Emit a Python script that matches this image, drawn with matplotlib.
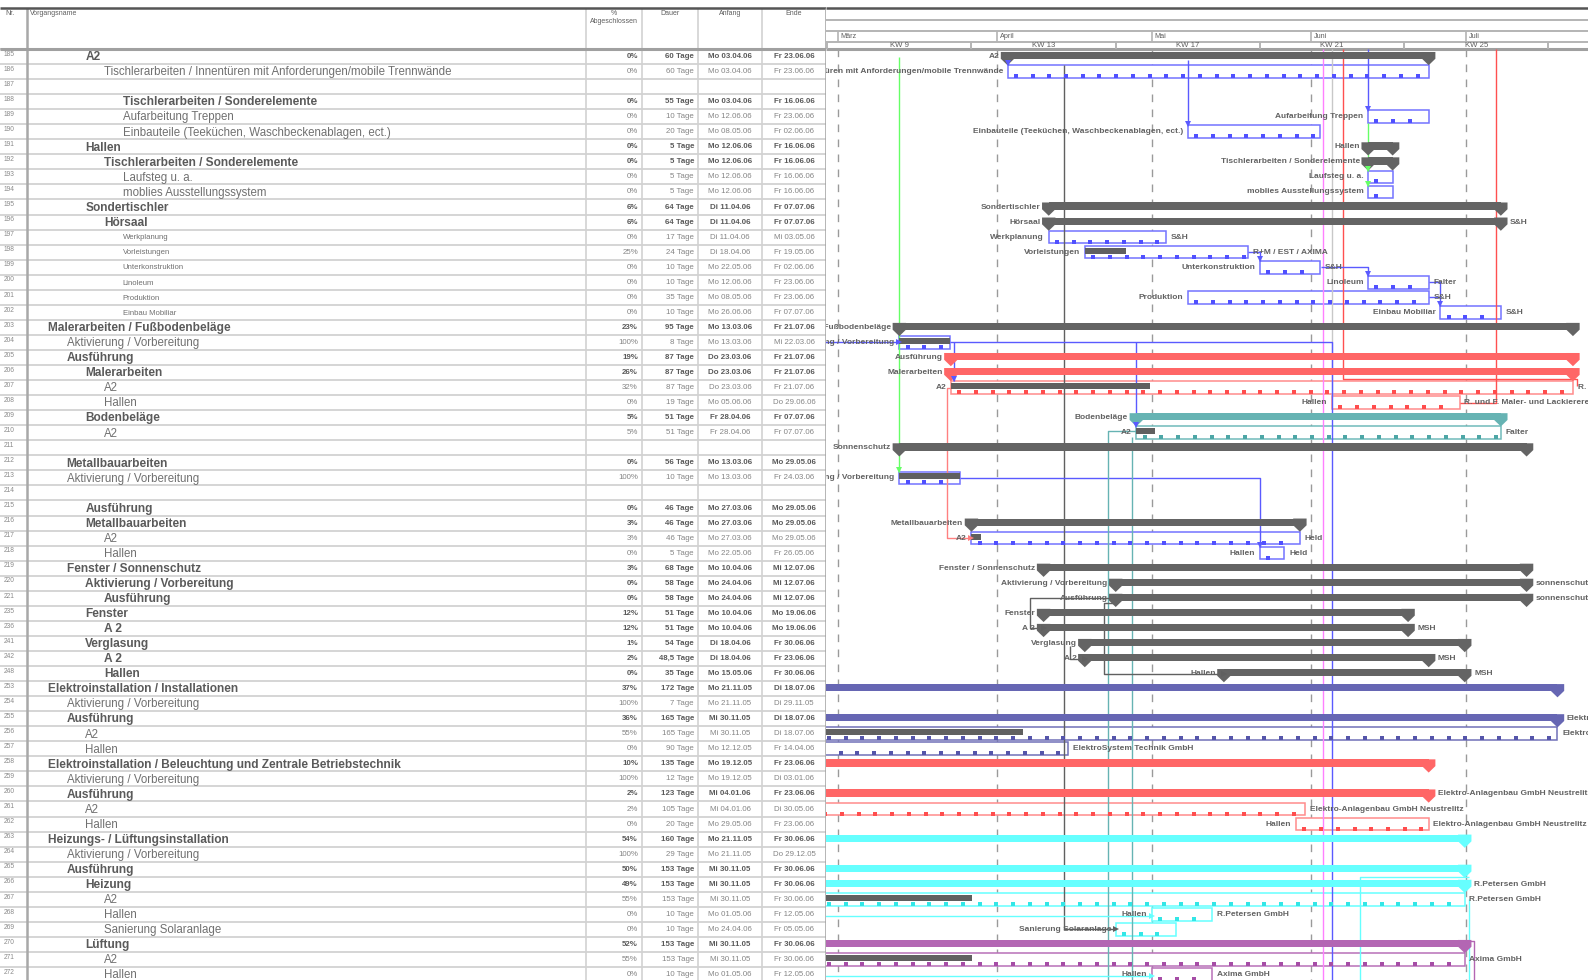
import datetime as dt
import numpy as np
import matplotlib
matplotlib.use('Agg')
import matplotlib.pyplot as plt
import matplotlib.dates as mdates
from matplotlib.patches import Rectangle, Polygon

plt.rcParams['font.family'] = ['Liberation Sans', 'DejaVu Sans']

# ---------------- table data ----------------
row_nr = [185, 186, 187, 188, 189, 190, 191, 192, 193, 194, 195, 196, 197, 198, 199, 200, 201, 202,
          203, 204, 205, 206, 207, 208, 209, 210, 211, 212, 213, 214, 215, 216, 217, 218, 219, 220, 221,
          235, 236, 241, 242, 248, 253, 254, 255, 256, 257, 258, 259, 260, 261, 262,
          263, 264, 265, 266, 267, 268, 269, 270, 271, 272]
row_name = ['A2', 'Tischlerarbeiten / Innentüren mit Anforderungen/mobile Trennwände', '',
            'Tischlerarbeiten / Sonderelemente', 'Aufarbeitung Treppen',
            'Einbauteile (Teeküchen, Waschbeckenablagen, ect.)', 'Hallen',
            'Tischlerarbeiten / Sonderelemente', 'Laufsteg u. a.', 'moblies Ausstellungssystem',
            'Sondertischler', 'Hörsaal', 'Werkplanung', 'Vorleistungen', 'Unterkonstruktion',
            'Linoleum', 'Produktion', 'Einbau Mobiliar',
            'Malerarbeiten / Fußbodenbeläge', 'Aktivierung / Vorbereitung', 'Ausführung',
            'Malerarbeiten', 'A2', 'Hallen', 'Bodenbeläge', 'A2', '',
            'Metallbauarbeiten', 'Aktivierung / Vorbereitung', '', 'Ausführung', 'Metallbauarbeiten',
            'A2', 'Hallen', 'Fenster / Sonnenschutz', 'Aktivierung / Vorbereitung', 'Ausführung',
            'Fenster', 'A 2', 'Verglasung', 'A 2', 'Hallen',
            'Elektroinstallation / Installationen', 'Aktivierung / Vorbereitung', 'Ausführung', 'A2', 'Hallen',
            'Elektroinstallation / Beleuchtung und Zentrale Betriebstechnik',
            'Aktivierung / Vorbereitung', 'Ausführung', 'A2', 'Hallen',
            'Heizungs- / Lüftungsinstallation', 'Aktivierung / Vorbereitung', 'Ausführung', 'Heizung',
            'A2', 'Hallen', 'Sanierung Solaranlage', 'Lüftung', 'A2', 'Hallen']
row_level = [2, 3, 0, 4, 4, 4, 2, 3, 4, 4, 2, 3, 4, 4, 4, 4, 4, 4,
             0, 1, 1, 2, 3, 3, 2, 3, 0, 1, 1, 0, 2, 2, 3, 3, 1, 2, 3,
             2, 3, 2, 3, 3, 0, 1, 1, 2, 2, 0, 1, 1, 2, 2,
             0, 1, 1, 2, 3, 3, 3, 2, 3, 3]
bold_nr = [185, 188, 191, 192, 195, 196, 203, 205, 206, 209, 212, 215, 216, 219, 220, 221,
           235, 236, 241, 242, 248, 253, 255, 258, 260, 263, 265, 266, 270]
small_nr = [197, 198, 199, 200, 201, 202]

row_pct = ['0%', '0%', '', '0%', '0%', '0%', '0%', '0%', '0%', '0%', '6%', '6%', '0%', '25%', '0%', '0%', '0%', '0%',
           '23%', '100%', '19%', '26%', '32%', '0%', '5%', '5%', '', '0%', '100%', '', '0%', '3%', '3%', '0%',
           '3%', '0%', '0%', '12%', '12%', '1%', '2%', '0%', '37%', '100%', '36%', '55%', '0%',
           '10%', '100%', '2%', '2%', '0%', '54%', '100%', '50%', '49%', '55%', '0%', '0%', '52%', '55%', '0%']
row_dur = ['60 Tage', '60 Tage', '', '55 Tage', '10 Tage', '20 Tage', '5 Tage', '5 Tage', '5 Tage', '5 Tage',
           '64 Tage', '64 Tage', '17 Tage', '24 Tage', '10 Tage', '10 Tage', '35 Tage', '10 Tage',
           '95 Tage', '8 Tage', '87 Tage', '87 Tage', '87 Tage', '19 Tage', '51 Tage', '51 Tage', '',
           '56 Tage', '10 Tage', '', '46 Tage', '46 Tage', '46 Tage', '5 Tage', '68 Tage', '58 Tage', '58 Tage',
           '51 Tage', '51 Tage', '54 Tage', '48,5 Tage', '35 Tage', '172 Tage', '7 Tage', '165 Tage',
           '165 Tage', '90 Tage', '135 Tage', '12 Tage', '123 Tage', '105 Tage', '20 Tage', '160 Tage',
           '29 Tage', '153 Tage', '153 Tage', '153 Tage', '10 Tage', '10 Tage', '153 Tage', '153 Tage', '10 Tage']
row_start = ['Mo 03.04.06', 'Mo 03.04.06', '', 'Mo 03.04.06', 'Mo 12.06.06', 'Mo 08.05.06', 'Mo 12.06.06',
             'Mo 12.06.06', 'Mo 12.06.06', 'Mo 12.06.06', 'Di 11.04.06', 'Di 11.04.06', 'Di 11.04.06',
             'Di 18.04.06', 'Mo 22.05.06', 'Mo 12.06.06', 'Mo 08.05.06', 'Mo 26.06.06', 'Mo 13.03.06',
             'Mo 13.03.06', 'Do 23.03.06', 'Do 23.03.06', 'Do 23.03.06', 'Mo 05.06.06', 'Fr 28.04.06',
             'Fr 28.04.06', '', 'Mo 13.03.06', 'Mo 13.03.06', '', 'Mo 27.03.06', 'Mo 27.03.06', 'Mo 27.03.06',
             'Mo 22.05.06', 'Mo 10.04.06', 'Mo 24.04.06', 'Mo 24.04.06', 'Mo 10.04.06', 'Mo 10.04.06',
             'Di 18.04.06', 'Di 18.04.06', 'Mo 15.05.06', 'Mo 21.11.05', 'Mo 21.11.05', 'Mi 30.11.05',
             'Mi 30.11.05', 'Mo 12.12.05', 'Mo 19.12.05', 'Mo 19.12.05', 'Mi 04.01.06', 'Mi 04.01.06',
             'Mo 29.05.06', 'Mo 21.11.05', 'Mo 21.11.05', 'Mi 30.11.05', 'Mi 30.11.05', 'Mi 30.11.05',
             'Mo 01.05.06', 'Mo 24.04.06', 'Mi 30.11.05', 'Mi 30.11.05', 'Mo 01.05.06']
row_end = ['Fr 23.06.06', 'Fr 23.06.06', '', 'Fr 16.06.06', 'Fr 23.06.06', 'Fr 02.06.06', 'Fr 16.06.06',
           'Fr 16.06.06', 'Fr 16.06.06', 'Fr 16.06.06', 'Fr 07.07.06', 'Fr 07.07.06', 'Mi 03.05.06',
           'Fr 19.05.06', 'Fr 02.06.06', 'Fr 23.06.06', 'Fr 23.06.06', 'Fr 07.07.06', 'Fr 21.07.06',
           'Mi 22.03.06', 'Fr 21.07.06', 'Fr 21.07.06', 'Fr 21.07.06', 'Do 29.06.06', 'Fr 07.07.06',
           'Fr 07.07.06', '', 'Mo 29.05.06', 'Fr 24.03.06', '', 'Mo 29.05.06', 'Mo 29.05.06', 'Mo 29.05.06',
           'Fr 26.05.06', 'Mi 12.07.06', 'Mi 12.07.06', 'Mi 12.07.06', 'Mo 19.06.06', 'Mo 19.06.06',
           'Fr 30.06.06', 'Fr 23.06.06', 'Fr 30.06.06', 'Di 18.07.06', 'Di 29.11.05', 'Di 18.07.06',
           'Di 18.07.06', 'Fr 14.04.06', 'Fr 23.06.06', 'Di 03.01.06', 'Fr 23.06.06', 'Di 30.05.06',
           'Fr 23.06.06', 'Fr 30.06.06', 'Do 29.12.05', 'Fr 30.06.06', 'Fr 30.06.06', 'Fr 30.06.06',
           'Fr 12.05.06', 'Fr 05.05.06', 'Fr 30.06.06', 'Fr 30.06.06', 'Fr 12.05.06']

# ---------------- gantt data ----------------
g_nr = [185, 186, 189, 190, 191, 192, 193, 194, 195, 196, 197, 198, 199, 200, 201, 202,
        203, 204, 205, 206, 207, 208, 209, 210, 211, 213, 216, 217, 218, 219, 220, 221,
        235, 236, 241, 242, 248, 253, 255, 256, 257, 258, 260, 261, 262,
        263, 265, 266, 267, 268, 269, 270, 271, 272]
g_kind = ['S', 'T', 'T', 'T', 'S', 'S', 'T', 'T', 'S', 'S', 'T', 'T', 'T', 'T', 'T', 'T',
          'S', 'T', 'S', 'S', 'T', 'T', 'S', 'T', 'S', 'T', 'S', 'T', 'T', 'S', 'S', 'S',
          'S', 'S', 'S', 'S', 'S', 'S', 'S', 'T', 'T', 'S', 'S', 'T', 'T',
          'S', 'S', 'S', 'T', 'T', 'T', 'S', 'T', 'T']
g_col = ['gray', 'blue', 'blue', 'blue', 'gray', 'gray', 'blue', 'blue', 'gray', 'gray', 'blue', 'blue',
         'blue', 'blue', 'blue', 'blue',
         'gray', 'blue', 'red', 'red', 'red', 'red', 'teal', 'teal', 'gray', 'blue', 'gray', 'blue', 'blue',
         'gray', 'gray', 'gray',
         'gray', 'gray', 'gray', 'gray', 'gray', 'elek', 'elek', 'elek', 'elek', 'red', 'red', 'red', 'red',
         'cyan', 'cyan', 'cyan', 'cyan', 'cyan', 'cyan', 'purple', 'purple', 'purple']
g_start = ['03.04.06', '03.04.06', '12.06.06', '08.05.06', '12.06.06', '12.06.06', '12.06.06', '12.06.06',
           '11.04.06', '11.04.06', '11.04.06', '18.04.06', '22.05.06', '12.06.06', '08.05.06', '26.06.06',
           '13.03.06', '13.03.06', '23.03.06', '23.03.06', '23.03.06', '05.06.06', '28.04.06', '28.04.06',
           '13.03.06', '13.03.06', '27.03.06', '27.03.06', '22.05.06', '10.04.06', '24.04.06', '24.04.06',
           '10.04.06', '10.04.06', '18.04.06', '18.04.06', '15.05.06', '21.11.05', '30.11.05', '30.11.05',
           '12.12.05', '19.12.05', '04.01.06', '04.01.06', '29.05.06',
           '21.11.05', '30.11.05', '30.11.05', '30.11.05', '01.05.06', '24.04.06', '30.11.05', '30.11.05',
           '01.05.06']
g_end = ['23.06.06', '23.06.06', '23.06.06', '02.06.06', '16.06.06', '16.06.06', '16.06.06', '16.06.06',
         '07.07.06', '07.07.06', '03.05.06', '19.05.06', '02.06.06', '23.06.06', '23.06.06', '07.07.06',
         '21.07.06', '22.03.06', '21.07.06', '21.07.06', '21.07.06', '29.06.06', '07.07.06', '07.07.06',
         '12.07.06', '24.03.06', '29.05.06', '29.05.06', '26.05.06', '12.07.06', '12.07.06', '12.07.06',
         '19.06.06', '19.06.06', '30.06.06', '23.06.06', '30.06.06', '18.07.06', '18.07.06', '18.07.06',
         '14.04.06', '23.06.06', '23.06.06', '30.05.06', '23.06.06',
         '30.06.06', '30.06.06', '30.06.06', '30.06.06', '12.05.06', '05.05.06', '30.06.06', '30.06.06',
         '12.05.06']
g_prog = [0, 0, 0, 0, 0, 0, 0, 0, 0, 0, 0, 25, 0, 0, 0, 0,
          0, 100, 0, 0, 32, 0, 0, 5, 0, 100, 0, 3, 0, 0, 0, 0,
          0, 0, 0, 0, 0, 0, 0, 55, 0, 0, 0, 2, 0,
          0, 0, 0, 55, 0, 0, 0, 55, 0]
g_left = ['A2', 'Tischlerarbeiten / Innentüren mit Anforderungen/mobile Trennwände', 'Aufarbeitung Treppen',
          'Einbauteile (Teeküchen, Waschbeckenablagen, ect.)', 'Hallen', 'Tischlerarbeiten / Sonderelemente',
          'Laufsteg u. a.', 'moblies Ausstellungssystem', 'Sondertischler', 'Hörsaal', 'Werkplanung',
          'Vorleistungen', 'Unterkonstruktion', 'Linoleum', 'Produktion', 'Einbau Mobiliar',
          'Malerarbeiten / Fußbodenbeläge', 'Aktivierung / Vorbereitung', 'Ausführung', 'Malerarbeiten',
          'A2', 'Hallen', 'Bodenbeläge', 'A2', 'Sonnenschutz', 'Aktivierung / Vorbereitung',
          'Metallbauarbeiten', 'A2', 'Hallen', 'Fenster / Sonnenschutz', 'Aktivierung / Vorbereitung',
          'Ausführung', 'Fenster', 'A 2', 'Verglasung', 'A 2', 'Hallen', '', '', '', '', '', '', '', 'Hallen',
          '', '', '', '', 'Hallen', 'Sanierung Solaranlage', '', '', 'Hallen']
g_right = ['', '', '', '', '', '', '', '', '', 'S&H', 'S&H', 'R+M / EST / AXIMA', 'S&H', 'Falter', 'S&H', 'S&H',
           '', '', '', '', 'R. und F. Maler- und Lackiererei', 'R. und F. Maler- und Lackiererei', '', 'Falter',
           '', '', '', 'Held', 'Held', '', 'sonnenschutz', 'sonnenschutz', '', 'MSH', '', 'MSH', 'MSH',
           '', 'Elektroinstallation', 'Elektro', 'ElektroSystem Technik GmbH', '',
           'Elektro-Anlagenbau GmbH Neustrelitz', 'Elektro-Anlagenbau GmbH Neustrelitz',
           'Elektro-Anlagenbau GmbH Neustrelitz',
           '', '', 'R.Petersen GmbH', 'R.Petersen GmbH', 'R.Petersen GmbH', '', '', 'Axima GmbH', 'Axima GmbH']

pal = {'gray': '#646464', 'blue': '#6b6bff', 'red': '#ff6666', 'teal': '#66b3b3',
       'elek': '#6666b3', 'cyan': '#66ffff', 'purple': '#b366b3'}
box_edge = {'blue': '#7373ff', 'red': '#ff8c8c', 'teal': '#70baba', 'elek': '#7070b8',
            'cyan': '#66ffff', 'purple': '#b870b8', 'gray': '#646464'}
dot_col = {'blue': '#5050ff', 'red': '#ff4d4d', 'teal': '#4da6a6', 'elek': '#5555aa',
           'cyan': '#33e6e6', 'purple': '#a64da6', 'gray': '#646464'}


def d(s, off=0.0):
    dd, mm, yy = s.split('.')
    return mdates.date2num(dt.datetime(2000 + int(yy), int(mm), int(dd))) + off


# dependency links: colour, points (date, Nr, dy), arrow marker at the end
links = [
    ('#5a5aff', [(d('03.04.06'), 185, 0.2), (d('03.04.06'), 186, -0.42)], 'v'),
    ('#66ff66', [(d('13.03.06'), 185, 0.0), (d('13.03.06'), 213, -0.42)], 'v'),
    ('#606060', [(d('14.04.06'), 186, -0.42), (d('14.04.06'), 269, 0.0), (d('24.04.06'), 269, 0.0)], '>'),
    ('#5a5aff', [(d('08.05.06'), 185, 0.2), (d('08.05.06'), 190, -0.42)], 'v'),
    ('#ff80ff', [(d('03.06.06', 0.3), 185, -0.5), (d('03.06.06', 0.3), 272, 0.6)], ''),
    ('#c8c8c8', [(d('04.06.06', 0.9), 185, -0.5), (d('04.06.06', 0.9), 208, -0.4)], ''),
    ('#ff5050', [(d('07.06.06', 0.2), 185, -0.5), (d('07.06.06', 0.2), 207, -0.55),
                 (d('22.07.06', 0.6), 207, -0.55), (d('22.07.06', 0.6), 207, -0.1)], ''),
    ('#5a5aff', [(d('12.06.06'), 185, -0.5), (d('12.06.06'), 189, -0.42)], 'v'),
    ('#66ff66', [(d('12.06.06'), 189, 0.42), (d('12.06.06'), 193, -0.42)], 'v'),
    ('#66ff66', [(d('12.06.06'), 193, 0.42), (d('12.06.06'), 194, -0.42)], 'v'),
    ('#ff5050', [(d('06.07.06', 0.9), 185, -0.5), (d('06.07.06', 0.9), 208, 0.0),
                 (d('29.06.06', 0.75), 208, 0.0)], ''),
    ('#5a5aff', [(d('20.02.06'), 204, 0.0), (d('13.03.06'), 204, 0.0)], '>'),
    ('#5a5aff', [(d('22.03.06', 0.75), 204, -0.05), (d('04.06.06', 0.9), 204, -0.05),
                 (d('04.06.06', 0.9), 272, 0.6)], ''),
    ('#5a5aff', [(d('23.03.06', 0.6), 204, 0.0), (d('23.03.06', 0.6), 207, -0.42)], 'v'),
    ('#5a5aff', [(d('28.04.06'), 204, 0.0), (d('28.04.06'), 210, -0.42)], 'v'),
    ('#5a5aff', [(d('24.03.06', 0.75), 213, 0.0), (d('22.05.06'), 213, 0.0), (d('22.05.06'), 218, -0.42)], 'v'),
    ('#ff8080', [(d('23.03.06'), 207, 0.0), (d('22.03.06', 0.3), 207, 0.0), (d('22.03.06', 0.3), 217, 0.0),
                 (d('27.03.06'), 217, 0.0)], '>'),
    ('#66b3b3', [(d('22.04.06', 0.6), 272, 0.6), (d('22.04.06', 0.6), 210, -0.1), (d('28.04.06'), 210, -0.1)], ''),
    ('#66b3b3', [(d('27.04.06', 0.2), 210, 0.3), (d('27.04.06', 0.2), 272, 0.6)], ''),
    ('#606060', [(d('24.04.06'), 221, 0.0), (d('07.04.06', 0.3), 221, 0.0), (d('07.04.06', 0.3), 236, 0.0),
                 (d('10.04.06'), 236, 0.0)], '>'),
    ('#606060', [(d('15.04.06', 0.2), 241, 0.2), (d('15.04.06', 0.2), 242, 0.0), (d('18.04.06'), 242, 0.0)], '>'),
    ('#606060', [(d('24.04.06'), 221, 0.3), (d('21.04.06', 0.8), 221, 0.3), (d('21.04.06', 0.8), 248, 0.0),
                 (d('15.05.06'), 248, 0.0)], '>'),
    ('#66ffff', [(d('01.07.06', 0.5), 265, 0.5), (d('10.06.06', 0.5), 265, 0.5), (d('10.06.06', 0.5), 272, 0.6)], ''),
    ('#66ffff', [(d('01.07.06', 0.6), 267, 0.0), (d('01.07.06', 0.6), 272, 0.6)], ''),
    ('#66ffff', [(d('20.02.06'), 268, 0.1), (d('01.05.06'), 268, 0.1)], '>'),
    ('#66ffff', [(d('20.02.06'), 272, 0.1), (d('01.05.06'), 272, 0.1)], '>'),
    ('#b366b3', [(d('30.06.06', 0.75), 270, -0.2), (d('02.07.06', 0.6), 270, -0.2),
                 (d('02.07.06', 0.6), 272, 0.6)], ''),
    ('#5a5aff', [(d('19.05.06', 0.75), 198, 0.0), (d('22.05.06'), 198, 0.0), (d('22.05.06'), 199, -0.42)], 'v'),
    ('#5a5aff', [(d('02.06.06', 0.75), 199, 0.0), (d('12.06.06'), 199, 0.0), (d('12.06.06'), 200, -0.42)], 'v'),
    ('#5a5aff', [(d('23.06.06', 0.75), 200, 0.0), (d('26.06.06'), 200, 0.0), (d('26.06.06'), 202, -0.42)], 'v'),
    ('#5a5aff', [(d('23.06.06', 0.75), 201, 0.0), (d('26.06.06'), 201, 0.0)], ''),
]

month_starts = ['01.03.06', '01.04.06', '01.05.06', '01.06.06', '01.07.06']
month_names = ['März', 'April', 'Mai', 'Juni', 'Juli']
week_starts = ['27.02.06', '27.03.06', '24.04.06', '22.05.06', '19.06.06', '17.07.06']
week_names = ['KW 9', 'KW 13', 'KW 17', 'KW 21', 'KW 25', 'KW 29']

idx = {nr: i for i, nr in enumerate(row_nr)}
nrows = len(row_nr)

ROW0, ROWH = 56.5, 15.05


def yr(px):
    # pixel row from top -> row units
    return (px - ROW0) / ROWH


W, H = 1588, 980
SPLIT = 826
PXDAY = 5.152
fig = plt.figure(figsize=(W / 100, H / 100), dpi=100)
ax_t = fig.add_axes([0, 0, SPLIT / W, 1])
ax_g = fig.add_axes([SPLIT / W, 0, (W - SPLIT) / W, 1])
ylim = (yr(H), yr(0))
for ax in (ax_t, ax_g):
    ax.set_ylim(*ylim)
    ax.axis('off')
ax_t.set_xlim(0, SPLIT)
x_left = d('01.03.06', -11.5 / PXDAY)
ax_g.set_xlim(x_left, x_left + (W - SPLIT) / PXDAY)

txt = '#5e5e5e'
grid = '#d2d2d2'

# ---------------- table ----------------
bounds = [i + 0.5 for i in range(-1, nrows)]
ax_t.hlines(bounds, 0, SPLIT, color=grid, lw=1.3, zorder=1)
ax_t.vlines([586, 642, 698, 762], yr(8), yr(H), color=grid, lw=1.2, zorder=1)
ax_t.vlines([27], yr(8), yr(H), color='#a8a8a8', lw=1.8, zorder=1)
ax_t.hlines(yr(8), 0, SPLIT, color='#555555', lw=1.8)
ax_t.hlines(-0.5, 0, SPLIT, color='#a0a0a0', lw=2.2, zorder=2)
ax_t.vlines([SPLIT - 0.5], yr(8), yr(H), color='#a0a0a0', lw=1.8, zorder=3)

hs = 5.0
ax_t.text(5, yr(13.5), 'Nr.', fontsize=hs, color=txt, va='center')
ax_t.text(30, yr(13.5), 'Vorgangsname', fontsize=hs, color=txt, va='center')
ax_t.text(614, yr(13.5), '%', fontsize=hs, color=txt, va='center', ha='center')
ab = ax_t.text(614, yr(21.5), 'Abgeschlossen', fontsize=hs, color=txt, va='center', ha='center')
clip = Rectangle((587, yr(8)), 54, yr(48) - yr(8), transform=ax_t.transData)
ab.set_clip_path(clip)
ax_t.text(670, yr(13.5), 'Dauer', fontsize=hs, color=txt, va='center', ha='center')
ax_t.text(730, yr(13.5), 'Anfang', fontsize=hs, color=txt, va='center', ha='center')
ax_t.text(794, yr(13.5), 'Ende', fontsize=hs, color=txt, va='center', ha='center')

for i, nr in enumerate(row_nr):
    bold = nr in bold_nr
    fw = 'bold' if bold else 'normal'
    ax_t.text(4, i - 0.15, str(nr), fontsize=4.8, color='#8a8a8a', va='center')
    if nr in small_nr:
        size = 5.6
    else:
        size = 8.6 if bold else 8.3
    ax_t.text(48 + row_level[i] * 18.7, i + 0.05, row_name[i], fontsize=size, fontweight=fw,
              color='#5a5a5a' if bold else '#707070', va='center')
    nc = '#5a5a5a' if bold else '#858585'
    ax_t.text(638, i, row_pct[i], fontsize=5.7, fontweight=fw, color=nc, va='center', ha='right')
    ax_t.text(694, i, row_dur[i], fontsize=5.7, fontweight=fw, color=nc, va='center', ha='right')
    ax_t.text(730, i, row_start[i], fontsize=5.7, fontweight=fw, color=nc, va='center', ha='center')
    ax_t.text(794, i, row_end[i], fontsize=5.7, fontweight=fw, color=nc, va='center', ha='center')

# ---------------- gantt header ----------------
gx0, gx1 = ax_g.get_xlim()
ax_g.hlines(yr(8), gx0, gx1, color='#555555', lw=1.8)
ax_g.hlines([yr(20.3), yr(31.4), yr(41.5)], gx0, gx1, color='#b4b4b4', lw=1.4)
ax_g.hlines(-0.5, gx0, gx1, color='#a0a0a0', lw=2.2)
for s, name in zip(month_starts, month_names):
    ax_g.vlines(d(s), yr(31.4), yr(41.5), color='#b4b4b4', lw=1.2)
    ax_g.text(d(s, 0.5), yr(36.2), name, fontsize=5.2, color=txt, va='center')
for k, (s, name) in enumerate(zip(week_starts, week_names)):
    ax_g.vlines(d(s), yr(41.5), -0.5, color='#b4b4b4', lw=1.4)
    ax_g.text(d(s, 14), yr(45.8), name, fontsize=5.6, color=txt, va='center', ha='center')

# month grid, dashed
ax_g.vlines([d(s) for s in month_starts], -0.5, yr(H), color='#9a9a9a', lw=1.0,
            linestyles=(0, (5.5, 5.3)), zorder=1)

# ---------------- gantt bars ----------------
cw = 1.3
lab = dict(fontsize=6.0, fontweight='bold', color='#626262', va='center', clip_on=True, zorder=6)
for i, nr in enumerate(g_nr):
    y = idx[nr]
    x0 = d(g_start[i])
    x1 = d(g_end[i], 0.75)
    c = g_col[i]
    if g_kind[i] == 'S':
        ax_g.add_patch(Rectangle((x0, y - 0.3), x1 - x0, 0.48, color=pal[c], lw=0, zorder=4))
        for xc in (x0, x1):
            ax_g.add_patch(Polygon([(xc - cw, y - 0.3), (xc + cw, y - 0.3), (xc + cw, y + 0.15),
                                    (xc, y + 0.58), (xc - cw, y + 0.15)], closed=True,
                                   color=pal[c], lw=0, zorder=4))
        lx, rx = x0 - cw - 0.3, x1 + cw + 0.5
    else:
        ax_g.add_patch(Rectangle((x0, y - 0.42), x1 - x0, 0.84, facecolor='white',
                                 edgecolor=box_edge[c], lw=1.1, zorder=2))
        if g_prog[i] > 0:
            px = x0 + (x1 - x0) * g_prog[i] / 100
            ax_g.add_patch(Rectangle((x0, y - 0.3), px - x0, 0.4, color='#606060', lw=0, zorder=4))
        dots = np.arange(x0 + 1.6, x1 - 0.8, 3.25)
        ax_g.plot(dots, [y + 0.3] * len(dots), 's', ms=2.5, color=dot_col[c], mew=0, zorder=4)
        lx, rx = x0 - 0.9, x1 + 0.9
    if g_left[i]:
        ax_g.text(lx, y, g_left[i], ha='right', **lab)
    if g_right[i]:
        ax_g.text(rx, y, g_right[i], ha='left', **lab)

for col, pts, arrow in links:
    xs = [p[0] for p in pts]
    ys = [idx[p[1]] + p[2] for p in pts]
    ax_g.plot(xs, ys, color=col, lw=1.0, zorder=3, solid_capstyle='butt')
    if arrow:
        ax_g.plot(xs[-1], ys[-1] - (0.12 if arrow == 'v' else 0), marker=arrow, ms=4.5,
                  color=col, mew=0, zorder=5)

fig.savefig('out.png', dpi=100)
